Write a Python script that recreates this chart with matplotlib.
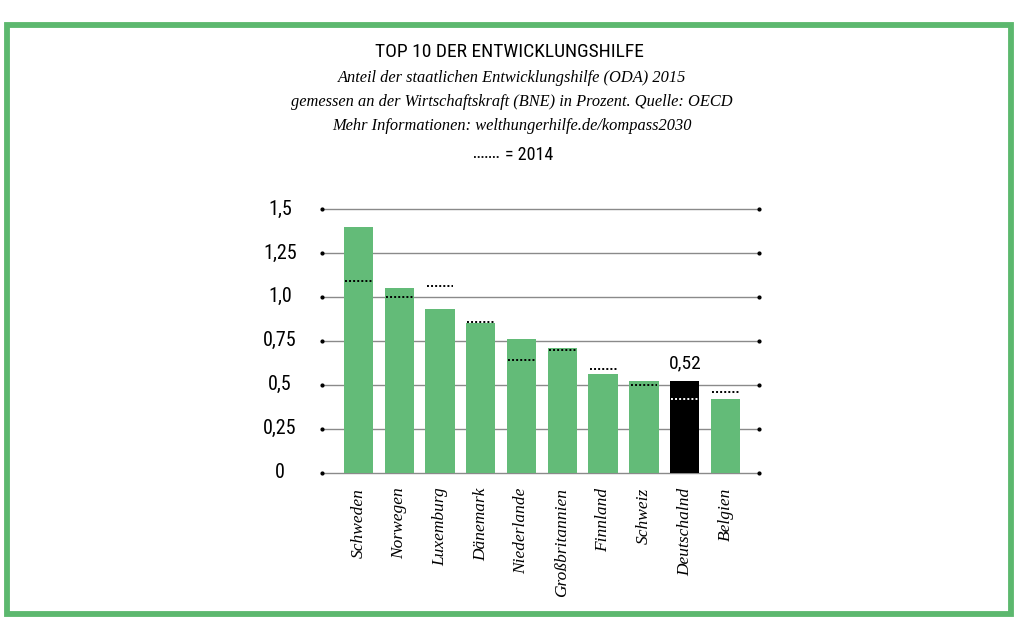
import numpy as np
import matplotlib.pyplot as plt
import matplotlib.transforms as mtransforms
from matplotlib.patches import Rectangle

# ODA share of GNI in percent, 2015 bars and 2014 dotted markers
countries = ["Schweden", "Norwegen", "Luxemburg", "Dänemark", "Niederlande",
             "Großbritannien", "Finnland", "Schweiz", "Deutschalnd", "Belgien"]
oda_2015 = [1.40, 1.05, 0.93, 0.85, 0.76, 0.71, 0.56, 0.52, 0.52, 0.42]
oda_2014 = [1.09, 1.00, 1.06, 0.86, 0.64, 0.70, 0.59, 0.50, 0.42, 0.46]
yticks = [0, 0.25, 0.5, 0.75, 1.0, 1.25, 1.5]
ytick_labels = ["0", "0,25", "0,5", "0,75", "1,0", "1,25", "1,5"]
highlight = "Deutschalnd"

green = "#63bb78"
border_green = "#5cb86e"
cond = ["Liberation Sans Narrow", "Roboto Condensed", "DejaVu Sans"]
serif = "Liberation Serif"

W, H = 1019, 640
fig = plt.figure(figsize=(W / 100, H / 100), dpi=100)
fig.patch.set_facecolor("white")

# green frame round the graphic
fig.add_artist(Rectangle((6.5 / W, 1 - 614 / H), 1004 / W, 589 / H,
                         transform=fig.transFigure, fill=False,
                         edgecolor=border_green, linewidth=4.2))

ax = fig.add_axes([321.7 / W, 1 - 472.7 / H, (759 - 321.7) / W, (472.7 - 209) / H])
ax.set_xlim(-0.9, 9.82)
ax.set_ylim(0, 1.5)

# grid lines with dots at both ends
for t in yticks:
    ax.plot([-0.9, 9.82], [t, t], color="#8a8a8a", lw=1.0, zorder=1, clip_on=False)
    ax.plot([-0.9, 9.82], [t, t], ls="none", marker="o", ms=2.0, color="black",
            zorder=1, clip_on=False)

x = np.arange(len(countries))
width = 0.72
colors = ["black" if c == highlight else green for c in countries]
ax.bar(x, oda_2015, width=width, color=colors, zorder=2)

for i, v in enumerate(oda_2014):
    dot_col = "white" if countries[i] == highlight else "black"
    ax.plot([i - width / 2 + 0.03, i + width / 2 - 0.03], [v, v], color=dot_col,
            lw=1.4, ls=(0, (1, 1.1)), zorder=3)

# value label on highlighted bar
hi = countries.index(highlight)
ax.text(hi, oda_2015[hi] + 0.05, "0,52", ha="center", va="bottom",
        family=cond, fontstretch="condensed", fontsize=14)

ylab_tr = mtransforms.blended_transform_factory(fig.transFigure, ax.transData)
for t, lab in zip(yticks, ytick_labels):
    ax.text(280 / W, t, lab, transform=ylab_tr, ha="center", va="center",
            family=cond, fontstretch="condensed", fontsize=14.5)

ax.set_xticks([])
ax.set_yticks([])
for s in ax.spines.values():
    s.set_visible(False)

for i, c in enumerate(countries):
    ax.text(i, -0.085, c, rotation=90, ha="center", va="top", family=serif,
            style="italic", fontsize=12.5)

# texts on top
fig.text(509 / W, 1 - 52 / H, "TOP 10 DER ENTWICKLUNGSHILFE", ha="center",
         va="center", family=cond, fontstretch="condensed", fontsize=14)
subtitle = ["Anteil der staatlichen Entwicklungshilfe (ODA) 2015",
            "gemessen an der Wirtschaftskraft (BNE) in Prozent. Quelle: OECD",
            "Mehr Informationen: welthungerhilfe.de/kompass2030"]
for k, line in enumerate(subtitle):
    fig.text(512 / W, 1 - (78 + 24 * k) / H, line, ha="center", va="center",
             family=serif, style="italic", fontsize=11.8)

fig.add_artist(plt.Line2D([474 / W, 500 / W], [1 - 157 / H, 1 - 157 / H],
                          transform=fig.transFigure, color="black", lw=1.3,
                          ls=(0, (1, 1.1))))
fig.text(505 / W, 1 - 155 / H, "= 2014", ha="left", va="center",
         family=cond, fontstretch="condensed", fontsize=13)

fig.savefig("out.png", dpi=100)
